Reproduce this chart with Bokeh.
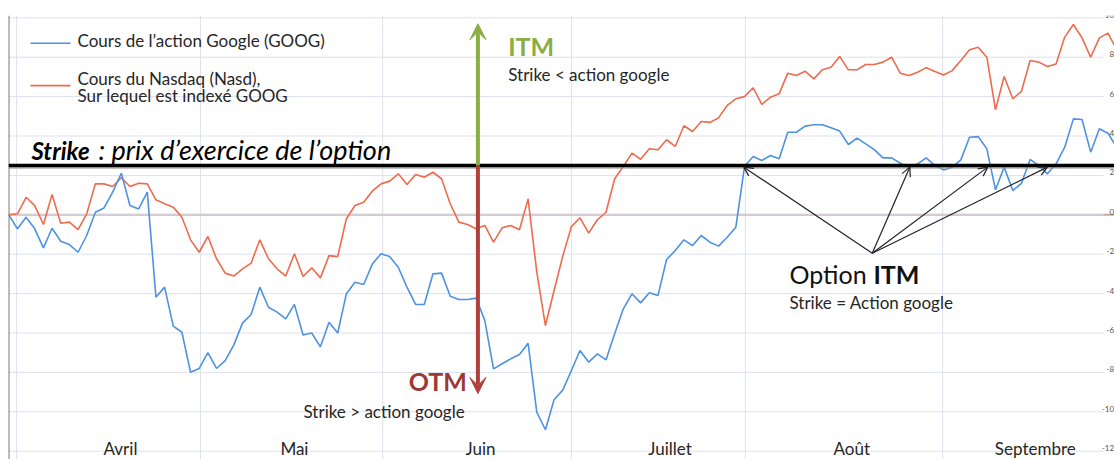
from bokeh.plotting import figure
from bokeh.models import Span, Arrow, VeeHead, OpenHead
from bokeh.core.properties import value
from bokeh.embed import file_html
from bokeh.resources import INLINE

# ---- data ----
goog = [0.0, -0.71, -0.12, -0.71, -1.68, -0.68, -1.34, -1.51, -1.90, -1.05,
        0.13, 0.35, 1.15, 2.11, 0.47, 0.30, 1.15, -4.18, -3.67, -5.65,
        -5.96, -7.99, -7.8, -7.0, -7.8, -7.4, -6.6, -5.5, -5.06, -3.67,
        -4.69, -4.94, -5.28, -4.55, -6.1, -6.0, -6.7, -5.45, -6.0, -4.01,
        -3.42, -3.54, -2.5, -1.98, -2.12, -2.66, -3.67, -4.55, -4.55, -3.0,
        -2.96, -4.13, -4.30, -4.30, -4.23, -5.37, -7.82, -7.56, -7.31, -7.09,
        -6.52, -10.02, -10.91, -9.39, -8.9, -7.90, -6.89, -7.48, -7.06, -7.36,
        -6.04, -4.77, -4.01, -4.47, -3.96, -4.10, -2.27, -1.81, -1.27, -1.56,
        -1.05, -1.39, -1.59, -1.14, -0.63, 2.45, 2.96, 2.76, 3.01, 2.84,
        4.19, 4.19, 4.50, 4.57, 4.57, 4.42, 4.25, 3.57, 3.89, 3.60,
        3.31, 2.89, 2.89, 2.62, 2.42, 2.59, 2.89, 2.5, 2.28, 2.42,
        2.79, 3.94, 3.97, 3.35, 1.27, 2.42, 1.23, 1.60, 2.81, 2.50,
        2.08, 2.59, 3.43, 4.87, 4.84, 3.18, 4.37, 4.14, 3.43]

nasd = [0.0, 0.05, 0.89, 0.47, -0.49, 1.03, -0.43, -0.37, -0.75, 0.05,
        1.57, 1.57, 1.44, 1.88, 1.44, 1.60, 1.57, 0.76, 0.56, 0.39,
        -0.12, -1.27, -1.90, -1.10, -2.23, -2.96, -3.11, -2.74, -2.45, -1.27,
        -2.23, -2.74, -3.11, -1.98, -3.13, -2.69, -3.20, -2.07, -2.12, -0.20,
        0.47, 0.64, 1.2, 1.57, 1.71, 2.08, 1.54, 2.05, 1.91, 2.16,
        1.83, 0.56, -0.37, -0.49, -0.71, -0.54, -1.39, -0.66, -0.54, -0.76,
        0.81, -2.9, -5.62, -3.84, -2.1, -0.6, -0.15, -0.93, -0.25, 0.13,
        1.83, 2.45, 3.13, 2.82, 3.35, 3.30, 3.81, 3.47, 4.52, 4.23,
        4.74, 4.69, 4.92, 5.55, 5.89, 6.0, 6.45, 5.6, 5.97, 6.14,
        7.19, 7.07, 7.29, 6.90, 7.36, 7.49, 8.04, 7.36, 7.36, 7.63,
        7.63, 7.75, 8.0, 7.19, 7.07, 7.24, 7.47, 7.27, 7.1, 7.32,
        7.83, 8.38, 8.51, 8.0, 5.33, 7.02, 5.89, 6.27, 7.83, 7.75,
        7.53, 7.66, 9.02, 9.66, 8.98, 8.0, 8.98, 9.22, 8.38]

days = list(range(len(goog)))

months = ["Avril", "Mai", "Juin", "Juillet", "Août", "Septembre"]
month_pos = [12.9, 33.0, 54.5, 76.4, 97.4, 118.6]
month_bounds = [0.9, 22.15, 43.2, 65.0, 85.1, 107.9]

yticks = [-12, -10, -8, -6, -4, -2, 0, 2, 4, 6, 8, 10]
ytick_labels = [str(t) for t in yticks]

strike = 2.5

# ---- styles ----
BLUE = "#4d92e3"
RED = "#ee6b4d"
GREEN = "#8aad45"
DRED = "#b0403c"
GRID = "#dfe1ef"
TXT = "#262626"
FONT = value("Lato")
PX = 19.7  # pixels per y unit


def bl(v, size):
    """baseline correction so that the alphabetic baseline sits at v"""
    return v + 0.37 * size / PX


p = figure(width=1114, height=459, x_range=(-0.035, 127.75), y_range=(-12.42, 10.117),
           output_backend="svg", toolbar_location=None,
           x_axis_location=None, y_axis_location=None,
           min_border_left=8, min_border_right=0, min_border_top=15, min_border_bottom=0)
p.grid.visible = False
p.outline_line_color = None
p.background_fill_color = "white"
p.border_fill_color = "white"

# gridlines
for b in month_bounds:
    p.add_layout(Span(location=b, dimension="height", line_color=GRID, line_width=1, level="underlay"))
p.segment(x0=[-0.035] * len(yticks), x1=[126.5] * len(yticks), y0=yticks, y1=yticks,
          line_color=GRID, line_width=1)
# left axis line and zero line
p.add_layout(Span(location=0.0, dimension="height", line_color="#7a7a7a", line_width=1.5))
p.add_layout(Span(location=0, dimension="width", line_color="#c9a7a2", line_width=2, level="underlay"))

# data lines
p.line(days, nasd, line_color=RED, line_width=1.6)
p.line(days, goog, line_color=BLUE, line_width=1.6)

# strike line
p.add_layout(Span(location=strike - 0.12, dimension="width", line_color="#9a9a9a", line_width=2, line_alpha=0.6))
p.add_layout(Span(location=strike, dimension="width", line_color="black", line_width=3.5))

# ITM / OTM arrows
xa = 54.2
p.add_layout(Arrow(end=VeeHead(size=16, fill_color=GREEN, line_color=GREEN),
                   x_start=xa, y_start=strike, x_end=xa, y_end=9.7,
                   line_color=GREEN, line_width=4))
p.add_layout(Arrow(end=VeeHead(size=16, fill_color=DRED, line_color=DRED),
                   x_start=xa, y_start=strike, x_end=xa, y_end=-9.07,
                   line_color=DRED, line_width=4))

# option ITM arrows
ox, oy = 99.76, -1.95
for tx in [84.92, 104.1, 113.1, 120.0]:
    p.add_layout(Arrow(end=OpenHead(size=9, line_width=1.2, line_color="#222"),
                       x_start=ox, y_start=oy, x_end=tx, y_end=2.42,
                       line_color="#222", line_width=1.2))

# legend
p.segment(x0=[2.5, 2.5], x1=[7.13, 7.13], y0=[8.71, 6.56], y1=[8.71, 6.56],
          line_color=[BLUE, RED], line_width=1.6)
p.text(x=[7.94, 7.94, 7.94], y=[bl(8.51, 17), bl(6.6, 17), bl(5.76, 17)],
       text=["Cours de l\u2019action Google (GOOG)", "Cours du Nasdaq (Nasd),", "Sur lequel est index\u00e9 GOOG"],
       text_font=FONT, text_font_size="17px", text_color=TXT, text_baseline="alphabetic")

# strike label
p.text(x=[2.62], y=[bl(2.81, 25)], text=["Strike"], text_font=FONT, text_font_size="24px",
       text_font_style="bold italic", text_color="black", text_baseline="alphabetic")
p.text(x=[10.37], y=[bl(2.81, 26)], text=[": prix d\u2019exercice de l\u2019option"], text_font=FONT,
       text_font_size="27px", text_font_style="italic", text_color="black", text_baseline="alphabetic")

# ITM / OTM labels
p.text(x=[57.7], y=[bl(8.08, 25)], text=["ITM"], text_font=FONT, text_font_size="25px",
       text_font_style="bold", text_color=GREEN, text_baseline="alphabetic")
p.text(x=[57.7], y=[bl(6.82, 17)], text=["Strike < action google"], text_font=FONT, text_font_size="17px",
       text_color=TXT, text_baseline="alphabetic")
p.text(x=[46.2], y=[bl(-8.93, 25)], text=["OTM"], text_font=FONT, text_font_size="25px",
       text_font_style="bold", text_color="#9e3836", text_baseline="alphabetic")
p.text(x=[34.05], y=[bl(-10.29, 17)], text=["Strike > action google"], text_font=FONT, text_font_size="17px",
       text_color=TXT, text_baseline="alphabetic")

# Option ITM labels
p.text(x=[90.2], y=[bl(-3.49, 25)], text=["Option"], text_font=FONT, text_font_size="25px",
       text_color="#111", text_baseline="alphabetic")
p.text(x=[99.9], y=[bl(-3.49, 25)], text=["ITM"], text_font=FONT, text_font_size="25px",
       text_font_style="bold", text_color="#111", text_baseline="alphabetic")
p.text(x=[90.2], y=[bl(-4.76, 17)], text=["Strike = Action google"], text_font=FONT, text_font_size="17px",
       text_color=TXT, text_baseline="alphabetic")

# month labels
p.text(x=month_pos, y=[bl(-12.17, 17)] * len(months), text=months, text_font=FONT, text_font_size="17px",
       text_color=TXT, text_align="center", text_baseline="alphabetic")

# right tick labels
p.text(x=[127.7] * len(yticks), y=[t + 0.15 for t in yticks], text=ytick_labels, text_font=FONT,
       text_font_size="8px", text_color="#555", text_align="right", text_baseline="middle")

open("out.html", "w").write(file_html(p, INLINE))
